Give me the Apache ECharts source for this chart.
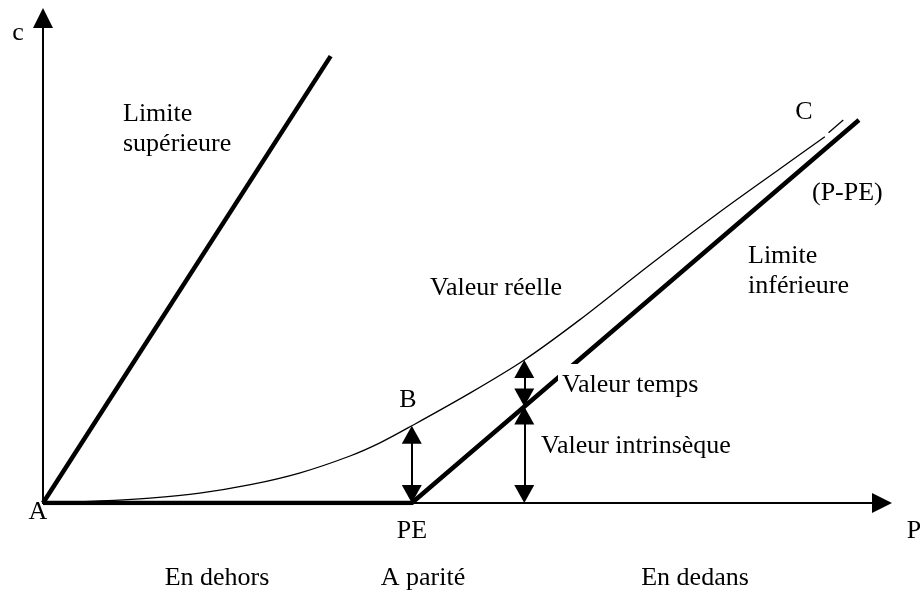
<!DOCTYPE html>
<html>
<head>
<meta charset="utf-8">
<script src="https://cdn.jsdelivr.net/npm/echarts@6/dist/echarts.min.js"></script>
<style>
  html, body { margin: 0; padding: 0; background: #fff; }
  #chart { width: 920px; height: 591px; }
</style>
</head>
<body>
<div id="chart"></div>
<script>
// prix d'exercice (PE) sur l'axe P
const pe = 40;

// limite supérieure : droite partant de A
const upperX = [0, 31.2];
const upperY = [0, 90.3];

// limite inférieure : 0 jusqu'à PE, puis (P-PE)
const lowerX = [0, pe, 88.5];
const lowerY = [0, 0, 77.4];

// valeur réelle de l'option (courbe fine)
const curveX = [0, 6.2, 11.6, 17.0, 22.5, 27.9, 33.3, 36.6, 40.0, 46.3, 52.2, 58.2, 65.8, 73.4, 79.9, 84.8];
const curveY = [0, 0.4, 1.0, 2.0, 3.7, 6.1, 9.5, 12.2, 15.6, 22.2, 28.9, 37.0, 48.1, 58.8, 67.5, 74.0];

// petit tiret en bout de courbe, près de C
const dashX = [85.2, 86.8];
const dashY = [74.8, 77.4];

// flèches doubles : x, bas, haut
const arrowX = [pe, 52.2, 52.2];
const arrowLow = [0, 0, 19.5];
const arrowHigh = [15.6, 19.5, 28.9];

const zip = (xs, ys) => xs.map((x, i) => [x, ys[i]]);

const FONT = '26px "Liberation Serif", "Times New Roman", serif';
const txt = (text, x, y, align, extra) => ({
  type: 'text',
  x: x,
  y: y,
  z: 100,
  style: Object.assign({ text: text, font: FONT, fill: '#000', align: align || 'left', verticalAlign: 'middle' }, extra || {})
});

const chart = echarts.init(document.getElementById('chart'), null, { renderer: 'canvas' });

// la pointe du triangle dépasse de la moitié de sa hauteur : on raccourcit un peu
const tip = 1.8;
const arrows = arrowX.map((x, i) => [
  { coord: [x, arrowLow[i] + tip] },
  { coord: [x, arrowHigh[i] - tip] }
]);

const axisCommon = {
  type: 'value',
  axisTick: { show: false },
  axisLabel: { show: false },
  splitLine: { show: false },
  axisLine: {
    show: true,
    symbol: ['none', 'triangle'],
    symbolSize: [20, 20],
    lineStyle: { color: '#000', width: 2 }
  }
};

const option = {
  animation: false,
  backgroundColor: '#fff',
  grid: { left: 43, right: 38, top: 18, bottom: 88 },
  xAxis: Object.assign({}, axisCommon, { min: 0, max: 91 }),
  yAxis: Object.assign({}, axisCommon, { min: 0, max: 98 }),
  series: [
    {
      name: 'Limite supérieure',
      type: 'line',
      data: zip(upperX, upperY),
      symbol: 'none',
      lineStyle: { color: '#000', width: 4.5 }
    },
    {
      name: 'Limite inférieure',
      type: 'line',
      data: zip(lowerX, lowerY),
      symbol: 'none',
      lineStyle: { color: '#000', width: 4.5 }
    },
    {
      name: 'Valeur réelle',
      type: 'line',
      data: zip(curveX, curveY),
      smooth: 0.3,
      symbol: 'none',
      lineStyle: { color: '#000', width: 1.3 },
      markLine: {
        silent: true,
        symbol: ['triangle', 'triangle'],
        symbolSize: [20, 18],
        label: { show: false },
        lineStyle: { color: '#000', width: 2, type: 'solid' },
        data: arrows
      }
    },
    {
      type: 'line',
      data: zip(dashX, dashY),
      symbol: 'none',
      lineStyle: { color: '#000', width: 1.3 }
    }
  ],
  graphic: [
    txt('c', 18, 33, 'center'),
    txt('Limite', 123, 114),
    txt('supérieure', 123, 144),
    txt('Valeur réelle', 430, 288),
    txt('B', 408, 400, 'center'),
    // fond blanc : le texte masque un bout de la limite inférieure
    txt('Valeur temps', 558, 385, 'left', { backgroundColor: '#fff', padding: [12, 2, 4, 4] }),
    txt('Valeur intrinsèque', 541, 446),
    txt('C', 804, 112, 'center'),
    txt('(P-PE)', 812, 193),
    txt('Limite', 748, 256),
    txt('inférieure', 748, 286),
    txt('A', 38, 512, 'center'),
    txt('PE', 412, 531, 'center'),
    txt('P', 914, 531, 'center'),
    txt('En dehors', 217, 578, 'center'),
    txt('A parité', 423, 578, 'center'),
    txt('En dedans', 695, 578, 'center')
  ]
};

chart.setOption(option);
</script>
</body>
</html>
